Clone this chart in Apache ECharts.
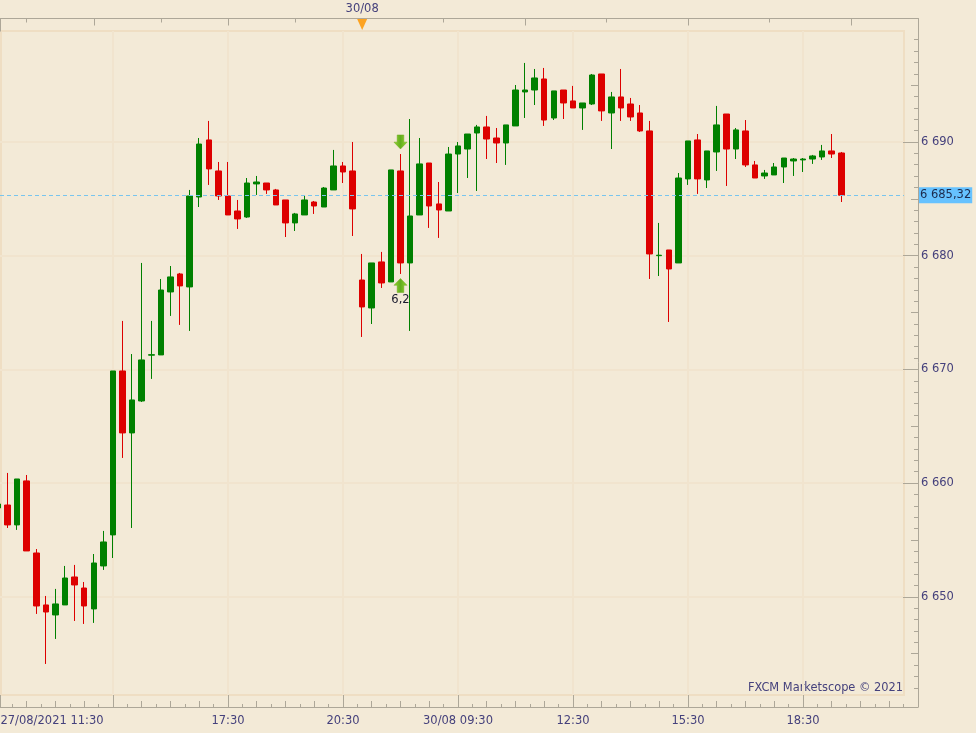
<!DOCTYPE html>
<html>
<head>
<meta charset="utf-8">
<style>html,body{margin:0;padding:0;background:#f3ead7}#chart{width:976px;height:733px}</style>
<script src="https://cdn.jsdelivr.net/npm/echarts@6/dist/echarts.min.js"></script>
</head>
<body>
<div id="chart"></div>
<script>
// Candles: one every 15 minutes; index 0 is the 14:30 candle under the first grid column.
var firstCandleIndex = -12;
var candleOpen = [
6657.81,6658.07,6656.32,6660.19,6653.85,6649.28,6648.40,6649.28,6651.74,6650.77,6648.93,6652.71,
6655.44,6669.86,6664.41,6667.22,6671.25,6671.27,6676.81,6678.39,6677.25,6685.16,6690.18,6687.45,
6685.25,6683.93,6683.40,6686.31,6686.39,6685.78,6684.90,6682.88,6683.58,6684.72,6684.28,6685.78,
6687.89,6687.45,6677.86,6675.40,6679.45,6677.69,6687.45,6679.36,6683.58,6688.15,6684.55,6683.93,
6688.94,6689.38,6690.79,6691.32,6690.35,6689.91,6691.41,6694.40,6694.57,6695.54,6692.11,6694.57,
6693.61,6692.99,6693.34,6695.98,6692.55,6693.96,6693.34,6692.55,6690.97,6680.00,6680.50,6679.36,
6686.75,6690.18,6686.66,6689.12,6692.46,6689.38,6690.97,6687.98,6687.01,6687.10,6687.80,6688.33,
6688.42,6688.50,6688.68,6689.21,6689.03];
var candleClose = [
6658.16,6656.32,6660.36,6654.03,6649.19,6648.66,6649.37,6651.65,6651.04,6649.19,6652.97,6654.82,
6669.86,6664.41,6667.31,6670.83,6671.29,6676.98,6678.13,6677.34,6685.25,6689.82,6687.63,6685.25,
6683.58,6683.23,6686.39,6686.48,6685.78,6684.46,6682.88,6683.67,6684.90,6684.37,6685.95,6687.89,
6687.36,6684.11,6675.49,6679.36,6677.60,6687.54,6679.36,6683.49,6688.07,6684.37,6684.02,6688.94,
6689.65,6690.70,6691.32,6690.26,6689.91,6691.50,6694.57,6694.57,6695.63,6691.93,6694.49,6693.43,
6692.99,6693.43,6695.89,6692.73,6693.96,6692.99,6692.20,6690.97,6680.15,6680.04,6678.83,6686.83,
6690.09,6686.75,6689.21,6691.50,6689.38,6691.06,6687.98,6686.83,6687.27,6687.80,6688.59,6688.50,
6688.50,6688.77,6689.21,6688.94,6685.32];
var candleLow = [
6657.81,6656.05,6655.88,6654.03,6648.49,6644.09,6646.29,6649.28,6647.87,6647.61,6647.70,6652.36,
6653.41,6662.21,6656.05,6667.13,6669.16,6671.27,6674.70,6673.91,6673.38,6684.28,6686.22,6684.90,
6683.58,6682.35,6683.32,6685.34,6685.43,6684.46,6681.64,6682.17,6683.58,6683.67,6684.28,6685.78,
6686.39,6681.73,6672.85,6673.99,6677.16,6677.69,6678.39,6673.38,6683.58,6682.44,6681.56,6683.93,
6685.51,6686.83,6685.69,6688.50,6688.15,6687.98,6691.41,6692.11,6693.25,6691.41,6691.93,6692.02,
6692.99,6691.06,6693.25,6691.85,6689.38,6691.85,6691.85,6690.88,6677.95,6678.21,6674.17,6679.36,
6686.22,6685.43,6685.95,6687.45,6686.13,6688.50,6687.80,6686.83,6686.75,6687.10,6686.39,6687.01,
6687.36,6688.07,6688.42,6688.59,6684.72];
var candleHigh = [
6658.16,6660.89,6660.36,6660.71,6654.20,6650.07,6650.69,6652.71,6652.80,6651.30,6653.76,6655.79,
6669.86,6674.26,6671.35,6679.36,6674.26,6677.95,6679.09,6678.48,6685.78,6690.35,6691.85,6688.24,
6688.24,6684.90,6686.83,6687.01,6686.39,6685.87,6684.90,6683.76,6685.25,6684.81,6686.04,6689.30,
6688.24,6690.00,6680.15,6679.36,6680.33,6687.54,6688.94,6692.02,6690.35,6688.15,6686.48,6689.56,
6690.00,6690.70,6691.50,6692.29,6691.23,6691.50,6695.01,6696.95,6696.42,6696.51,6694.49,6694.57,
6694.93,6693.43,6695.98,6695.98,6694.40,6696.42,6693.87,6693.25,6691.85,6682.88,6680.50,6687.27,
6690.09,6690.70,6689.21,6693.17,6692.46,6691.23,6691.93,6688.33,6687.54,6688.15,6688.59,6688.59,
6688.59,6688.86,6689.74,6690.70,6689.12];
var lastPrice = [6685.32];
var lastPriceLabel = ['6 685,32'];

// Trade arrows on the candle at index 30
var arrowIndex = [30, 30];
var arrowPrice = [6690.0, 6677.38];
var arrowRotation = [0, 180];
var arrowText = ['', '6,2'];

// Date marker on the top axis
var dateMarkerIndex = [26];
var dateMarkerPrice = [6700.33];
var dateMarkerLabels = ['30/08'];

// Bottom time axis
var timeTickValues = [-11.74, 0, 12, 24, 36, 48, 60, 72];
var timeLabelValues = [-11.74, 12, 24, 36, 48, 60, 72];
var timeLabels = ['27/08/2021 11:30', '17:30', '20:30', '30/08 09:30', '12:30', '15:30', '18:30'];
var timeMediumTicks = [-9,-6,-3,3,6,9,15,18,21,27,30,33,39,42,45,51,54,57,63,66,69,75,78,81];
var timeShortTicks = [-10.5,-7.5,-4.5,-1.5,1.5,4.5,7.5,10.5,13.5,16.5,19.5,22.5,25.5,28.5,31.5,34.5,37.5,40.5,43.5,46.5,49.5,52.5,55.5,58.5,61.5,64.5,67.5,70.5,73.5,76.5,79.5,82.5];

// Top date axis
var topCornerTick = [-11.74];
var topMediumTicks = [-2, 12, 26, 43, 60, 77];
var topShortTicks = [-9, 5, 19, 34.5, 51.5, 68.5];

// Price axis
var priceMajorTicks = [6650, 6660, 6670, 6680, 6690];
var priceMajorLabels = ['6 650', '6 660', '6 670', '6 680', '6 690'];
var priceMediumTicks = [6645, 6655, 6665, 6675, 6685, 6695];
var priceMinorTicks = [6642,6643,6644,6646,6647,6648,6649,6651,6652,6653,6654,6656,6657,6658,6659,6661,6662,6663,6664,6666,6667,6668,6669,6671,6672,6673,6674,6676,6677,6678,6679,6681,6682,6683,6684,6686,6687,6688,6689,6691,6692,6693,6694,6696,6697,6698,6699];

var BG = '#f3ead7', GRID = '#f1e4ce', FRAME = '#efdec3', AXIS = '#ada798', TEXT = '#45417c';
var GREEN = '#008000', RED = '#dd0000';
var FONT = '"DejaVu Sans", sans-serif';
var X_MIN = -11.79;

var candles = candleOpen.map(function (o, i) {
  return [firstCandleIndex + i, o, candleClose[i], candleLow[i], candleHigh[i]];
});

function tickOnlyX(customValues, len, position, line) {
  return {
    type: 'value', gridIndex: 1, position: position, min: X_MIN, max: 84,
    axisLine: { show: !!line, onZero: false, lineStyle: { color: AXIS, width: 1 } },
    axisTick: { show: true, inside: true, length: len, customValues: customValues, lineStyle: { color: AXIS, width: 1 } },
    axisLabel: { show: false }, splitLine: { show: false }
  };
}
function tickOnlyY(customValues, len) {
  return {
    type: 'value', gridIndex: 1, position: 'right', min: 6640.31, max: 6700.86,
    axisLine: { show: false, onZero: false },
    axisTick: { show: true, inside: true, length: len, customValues: customValues, lineStyle: { color: AXIS, width: 1 } },
    axisLabel: { show: false }, splitLine: { show: false }
  };
}

var xBottomMajor = tickOnlyX(timeTickValues, 12, 'bottom', true);
xBottomMajor.axisLabel = {
  show: true, customValues: timeLabelValues, color: TEXT, fontFamily: FONT, fontSize: 11.5, margin: 8,
  alignMinLabel: 'left', showMinLabel: true, showMaxLabel: true, hideOverlap: false,
  formatter: function (v) { return timeLabels[timeLabelValues.indexOf(v)]; }
};
var xTopMedium = tickOnlyX(topMediumTicks, 7, 'top', true);
xTopMedium.axisLabel = {
  show: true, customValues: dateMarkerIndex, color: TEXT, fontFamily: FONT, fontSize: 11.5, margin: 3,
  showMinLabel: true, showMaxLabel: true,
  formatter: function () { return dateMarkerLabels[0]; }
};

var yRightMajor = tickOnlyY(priceMajorTicks, 15);
yRightMajor.axisLine = { show: true, onZero: false, lineStyle: { color: AXIS, width: 1 } };
yRightMajor.axisLabel = {
  show: true, customValues: priceMajorTicks, color: TEXT, fontFamily: FONT, fontSize: 11.5, margin: 3,
  padding: [4, 0, 0, 0], showMinLabel: true, showMaxLabel: true,
  formatter: function (v) { return priceMajorLabels[priceMajorTicks.indexOf(v)]; }
};
var yLast = tickOnlyY(lastPrice, 0);
yLast.axisTick = { show: false, customValues: lastPrice };
yLast.axisLabel = {
  show: true, customValues: lastPrice, color: '#1c2a4c', fontFamily: FONT, fontSize: 11.5, margin: 1,
  backgroundColor: '#66c2ff', padding: [2, 1, 2, 1], showMinLabel: true, showMaxLabel: true,
  formatter: function () { return lastPriceLabel[0]; }
};

var option = {
  animation: false,
  backgroundColor: BG,
  grid: [
    { left: 0, right: 72, top: 31, bottom: 38, show: false, outerBoundsMode: 'none' },
    { left: 0, right: 58, top: 18.5, bottom: 26, show: false, outerBoundsMode: 'none' },
    { left: 1, right: 72, top: 31, bottom: 38, show: true, backgroundColor: 'transparent', borderColor: FRAME, borderWidth: 2, outerBoundsMode: 'none' }
  ],
  xAxis: [
    {
      type: 'value', gridIndex: 0, min: X_MIN, max: 82.54,
      axisLine: { show: false, onZero: false },
      axisTick: { show: false, customValues: timeTickValues.slice(1) },
      axisLabel: { show: false },
      splitLine: { show: true, lineStyle: { color: GRID, width: 2 } }
    },
    xBottomMajor,
    tickOnlyX(timeMediumTicks, 6, 'bottom', false),
    tickOnlyX(timeShortTicks, 3, 'bottom', false),
    xTopMedium,
    tickOnlyX(topShortTicks, 4, 'top', false),
    tickOnlyX(topCornerTick, 13, 'top', false)
  ],
  yAxis: [
    {
      type: 'value', gridIndex: 0, position: 'right', min: 6641.36, max: 6699.76,
      axisLine: { show: false, onZero: false },
      axisTick: { show: false, customValues: priceMajorTicks },
      axisLabel: { show: false },
      splitLine: { show: true, lineStyle: { color: GRID, width: 2 } }
    },
    yRightMajor,
    tickOnlyY(priceMediumTicks, 7),
    tickOnlyY(priceMinorTicks, 4),
    yLast
  ],
  series: [
    {
      type: 'candlestick', xAxisIndex: 0, yAxisIndex: 0, barWidth: 6,
      data: candles,
      itemStyle: { color: GREEN, color0: RED, borderColor: GREEN, borderColor0: RED, borderWidth: 1 },
      markLine: {
        silent: true, symbol: 'none', animation: false,
        label: { show: false },
        lineStyle: { color: '#78c5ee', width: 1, type: [4, 3] },
        data: [{ yAxis: lastPrice[0] }]
      }
    },
    {
      type: 'scatter', xAxisIndex: 0, yAxisIndex: 0, z: 5,
      symbol: 'path://M3.2 0H9.8V7.2H13L6.5 14L0 7.2H3.2Z',
      symbolSize: [13, 14],
      itemStyle: {
        opacity: 1,
        color: { type: 'linear', x: 0, y: 0, x2: 1, y2: 0, colorStops: [
          { offset: 0, color: '#96d62e' }, { offset: 0.5, color: '#62ad1e' }, { offset: 1, color: '#96d62e' }
        ] },
        borderColor: '#6aa91c', borderWidth: 0.5
      },
      data: arrowIndex.map(function (x, i) {
        return {
          value: [x, arrowPrice[i]],
          symbolRotate: arrowRotation[i],
          label: {
            show: !!arrowText[i], formatter: arrowText[i], position: 'bottom', distance: 1,
            color: '#1a1a2e', fontFamily: FONT, fontSize: 11.5
          }
        };
      })
    },
    {
      type: 'scatter', xAxisIndex: 4, yAxisIndex: 1, z: 6, clip: false,
      symbol: 'triangle', symbolRotate: 180, symbolSize: [10, 11],
      itemStyle: { color: '#fca321', opacity: 1 },
      data: [[dateMarkerIndex[0], dateMarkerPrice[0]]]
    }
  ],
  graphic: [{
    type: 'text', right: 73, top: 683, silent: true,
    style: { text: 'FXCM Marketscope \u00a9 2021', fill: TEXT, font: '11.4px ' + FONT, align: 'right' }
  }]
};
var chart = echarts.init(document.getElementById('chart'), null, { renderer: 'canvas' });
chart.setOption(option);
</script>
</body>
</html>
